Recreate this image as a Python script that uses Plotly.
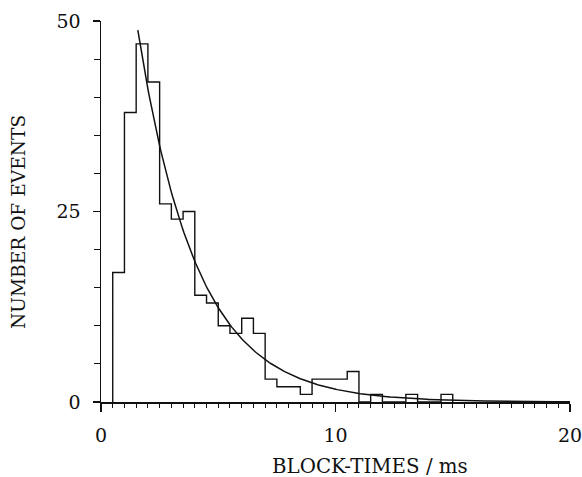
import plotly.graph_objects as go
import numpy as np

# Histogram of block-times (bin width 0.5 ms), counts
bin_start = [0.5, 1.0, 1.5, 2.0, 2.5, 3.0, 3.5, 4.0, 4.5, 5.0, 5.5, 6.0, 6.5, 7.0,
             7.5, 8.0, 8.5, 9.0, 9.5, 10.0, 10.5, 11.0, 11.5, 12.0, 12.5, 13.0,
             13.5, 14.0, 14.5]
counts = [17, 38, 47, 42, 26, 24, 25, 14, 13, 10, 9, 11, 9, 3,
          2, 2, 1, 3, 3, 3, 4, 0, 1, 0, 0, 1,
          0, 0, 1]
bin_width = 0.5

# Fitted exponential (single exponential fit to the block-time distribution)
fit_start = 1.57
fit_end = 20.0
fit_amplitude = 48.8   # value at fit_start
fit_tau = 2.5          # ms

x_ticks = [0, 10, 20]
y_ticks = [0, 25, 50]

# step outline
step_x = [bin_start[0]] + bin_start + [bin_start[-1] + bin_width]
step_y = [0] + counts + [0]

fit_x = np.linspace(fit_start, fit_end, 300)
fit_y = fit_amplitude * np.exp(-(fit_x - fit_start) / fit_tau)

FONT = "DejaVu Serif"

fig = go.Figure()
fig.add_trace(go.Scatter(x=step_x, y=step_y, mode="lines",
                         line=dict(shape="hv", color="#111111", width=1.4),
                         hoverinfo="skip", showlegend=False))
fig.add_trace(go.Scatter(x=fit_x, y=fit_y, mode="lines",
                         line=dict(color="#111111", width=1.5),
                         hoverinfo="skip", showlegend=False))

fig.update_layout(
    width=582, height=477,
    margin=dict(l=101, r=12, t=21, b=75, autoexpand=False),
    paper_bgcolor="white", plot_bgcolor="white",
    font=dict(family=FONT, size=18, color="#111111"),
    showlegend=False,
)
fig.update_xaxes(
    range=[0, 20], tickvals=x_ticks, ticktext=[str(v) for v in x_ticks],
    showline=True, linecolor="#111111", linewidth=1.5,
    ticks="outside", ticklen=8, tickwidth=1.2, tickcolor="#111111",
    minor=dict(dtick=0.5, tick0=0, ticks="outside", ticklen=4, tickwidth=1, tickcolor="#111111"),
    showgrid=False, zeroline=False, ticklabelstandoff=8,
    ticklabeloverflow="allow", automargin=False,
    tickfont=dict(family=FONT, size=19),
)
fig.update_yaxes(
    range=[0, 50], tickvals=y_ticks, ticktext=[str(v) for v in y_ticks],
    showline=True, linecolor="#111111", linewidth=1.5,
    ticks="outside", ticklen=7, tickwidth=1.2, tickcolor="#111111",
    minor=dict(dtick=5, tick0=0, ticks="outside", ticklen=6, tickwidth=1, tickcolor="#111111"),
    showgrid=False, zeroline=False, ticklabelstandoff=8,
    ticklabeloverflow="allow", automargin=False,
    tickfont=dict(family=FONT, size=19),
)

fig.add_annotation(text="BLOCK-TIMES / ms", xref="paper", yref="paper",
                   x=(370 - 101) / 469, y=-(466 - 402) / 381,
                   xanchor="center", yanchor="middle", showarrow=False,
                   font=dict(family=FONT, size=19.8))
fig.add_annotation(text="NUMBER OF EVENTS", xref="paper", yref="paper",
                   x=-(101 - 19) / 469, y=(402 - 222) / 381, textangle=-90,
                   xanchor="center", yanchor="middle", showarrow=False,
                   font=dict(family=FONT, size=18.6))

fig.write_html("out.html",
               config={"displayModeBar": False, "staticPlot": True},
               post_script="document.body.style.margin='0';document.body.style.overflow='hidden';")
